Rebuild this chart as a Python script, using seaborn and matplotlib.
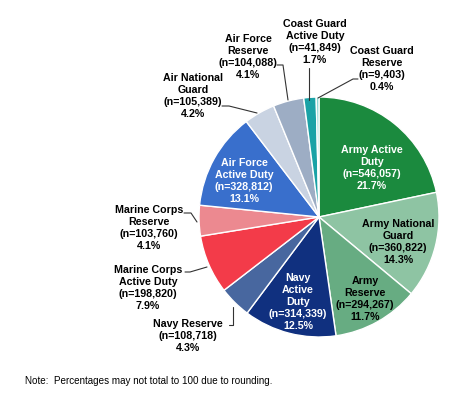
import matplotlib
matplotlib.use("Agg")
import matplotlib.pyplot as plt
import seaborn as sns

sns.set_theme(style="white")
plt.rcParams['font.family'] = ['Liberation Sans', 'DejaVu Sans']

# ---- data ----
names = ["Army Active\nDuty", "Army National\nGuard", "Army\nReserve",
         "Navy\nActive\nDuty", "Navy Reserve", "Marine Corps\nActive Duty",
         "Marine Corps\nReserve", "Air Force\nActive Duty", "Air National\nGuard",
         "Air Force\nReserve", "Coast Guard\nActive Duty", "Coast Guard\nReserve"]
counts = [546057, 360822, 294267, 314339, 108718, 198820,
          103760, 328812, 105389, 104088, 41849, 9403]
percents = [21.7, 14.3, 11.7, 12.5, 4.3, 7.9, 4.1, 13.1, 4.2, 4.1, 1.7, 0.4]
colors = ["#1B8A3E", "#8EC4A3", "#67AC82", "#10307F", "#48679F", "#F33B49",
          "#EC8990", "#396FCC", "#C9D3E2", "#9DADC4", "#1AA2A6", "#8FD8D6"]
note = "Note:  Percentages may not total to 100 due to rounding."

# ---- layout (pixel coordinates, y measured from top) ----
W, H = 474, 396
cx, cy, R = 319, 217, 120
label_pos = [(372, 168), (398, 242), (365, 299), (298, 302), (188, 336),
             (148, 288), (149, 228), (244, 181), (193, 96), (248, 57),
             (315, 42), (382, 69)]
label_col = ["white", "black", "black", "white", "black", "black",
             "black", "white", "black", "black", "black", "black"]
leaders = {
    4: [(229, 325), (233, 325), (233, 307)],
    5: [(185, 272), (190, 272), (207, 267)],
    6: [(184, 213), (191, 213), (197, 222)],
    8: [(222, 106), (229, 106), (257, 113)],
    9: [(277, 65), (283, 65), (288, 100)],
    10: [(309, 68), (309, 100)],
    11: [(358, 79), (353, 79), (318, 98)],
}

fig = plt.figure(figsize=(W / 100, H / 100), dpi=100)
ax = fig.add_axes([0, 0, 1, 1])

ax.pie(counts, colors=sns.color_palette(colors), startangle=90, counterclock=False,
       center=(cx, H - cy), radius=R, frame=True,
       wedgeprops=dict(edgecolor="white", linewidth=1.0))
ax.set_xlim(0, W)
ax.set_ylim(0, H)
ax.set_aspect("equal")
ax.axis("off")

for i, (nm, n, p) in enumerate(zip(names, counts, percents)):
    x, y = label_pos[i]
    ax.text(x, H - y, f"{nm}\n(n={n:,})\n{p}%", ha="center", va="center",
            fontsize=7.7, fontweight="bold", color=label_col[i], linespacing=1.22)

for i, pts in leaders.items():
    xs = [p[0] for p in pts]
    ys = [H - p[1] for p in pts]
    ax.plot(xs, ys, color="#333333", lw=0.8)

ax.text(25, H - 381, note, ha="left", va="center", fontsize=7.1, color="black")

fig.savefig("out.png", dpi=100)
